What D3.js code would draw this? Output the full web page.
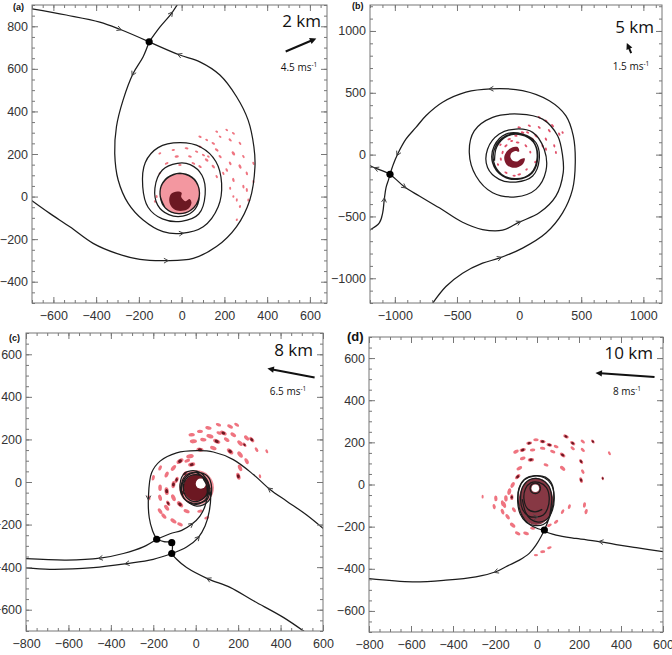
<!DOCTYPE html>
<html>
<head>
<meta charset="utf-8">
<script src="https://d3js.org/d3.v7.min.js"></script>
<style>
  body { margin: 0; background: #fff; }
  svg { display: block; }
</style>
</head>
<body>
<div id="chart"></div>
<script>
// ---------- data (km, storm-centred) ----------
const heights = ["2 km", "5 km", "8 km", "10 km"]
const panelTags = ["(a)", "(b)", "(c)", "(d)"]
const shearSpeed = [4.5, 1.5, 6.5, 8]        // m/s
const shearDir = [23, 113, 169, 176]         // degrees, anticlockwise from east

const xTicksA = [-600, -400, -200, 0, 200, 400, 600]
const yTicksA = [-400, -200, 0, 200, 400, 600, 800]
const xTicksB = [-1000, -500, 0, 500, 1000]
const yTicksB = [-1000, -500, 0, 500, 1000]
const xTicksCD = [-800, -600, -400, -200, 0, 200, 400, 600]
const yTicksCD = [-600, -400, -200, 0, 200, 400, 600]

// streamlines, points in flow order
const aLines = [
  [[-700,882],[-540,853],[-383,820],[-289,786],[-152,727]],
  [[-705,-16],[-617,-79],[-523,-142],[-414,-220],[-305,-267],[-195,-295],[-71,-301],[54,-290],[163,-235],[257,-141],[319,-16],[343,140],[338,234],[311,359],[257,469],[179,571],[85,633],[-9,665],[-152,727]],
  [[-152,727],[-102,796],[-48,860],[-15,910]],
  [[-152,727],[-180,657],[-227,578],[-274,453],[-305,328],[-313,203],[-297,78],[-250,-32],[-180,-110],[-87,-165],[-1,-173],[101,-142],[171,-48],[187,62],[160,165],[90,232],[-8,253],[-110,230],[-170,160],[-182,46],[-157,-50],[-90,-105],[-1,-116],[80,-82],[110,10],[95,100],[40,150],[-20,156],[-90,125],[-125,40],[-112,-40],[-60,-85],[5,-92],[62,-60],[83,5],[68,70],[20,105],[-40,102],[-90,60],[-100,0],[-75,-55],[-15,-80],[45,-62],[82,0],[68,68],[18,104],[-38,104],[-88,66],[-101,10],[-78,-52]]
]
const aArrows = [[-289,786],[-71,-301],[-9,665],[-48,860],[-227,578],[-1,-173]]
const aSaddles = [[-152,727]]

const bLines = [
  [[-1039,-159],[-1098,-132],[-1152,-111],[-1210,-84]],
  [[-1039,-159],[-991,-200],[-924,-260],[-803,-335],[-642,-430],[-455,-547],[-294,-606],[-133,-611],[1,-546],[162,-471],[296,-336],[355,-146],[350,-10],[310,152],[189,287],[1,328],[-213,301],[-361,192],[-401,17],[-347,-173],[-213,-308],[-26,-341],[135,-281],[216,-132],[202,44],[109,180],[-26,207],[-160,166],[-254,44],[-254,-105],[-160,-200],[-26,-222],[109,-173],[162,-38],[135,98],[28,166],[-106,166],[-200,71],[-214,-64],[-133,-173],[-12,-200],[105,-150],[150,-20],[115,105],[10,165],[-110,150],[-190,65],[-205,-55],[-140,-160],[-25,-195],[95,-150],[145,-25],[115,100],[15,160],[-100,148],[-180,62],[-198,-50]],
  [[-705,-1215],[-589,-1067],[-455,-959],[-294,-878],[-160,-837],[28,-756],[216,-634],[350,-471],[430,-281],[452,-64],[436,152],[377,314],[243,436],[28,518],[-227,532],[-428,505],[-616,423],[-750,314],[-830,220],[-911,125],[-978,3],[-1012,-78],[-1039,-159]],
  [[-1210,-615],[-1125,-552],[-1098,-471],[-1085,-362],[-1071,-267],[-1050,-200],[-1039,-159]]
]
const bArrows = [[-1152,-111],[-924,-260],[1,-546],[-160,-837],[-227,532],[-978,3],[-1085,-362]]
const bSaddles = [[-1039,-159]]

const cLines = [
  [[610,-226],[523,-155],[429,-90],[350,-35],[272,35],[177,105],[83,141],[5,147],[-90,137],[-168,98],[-208,43],[-223,-74],[-219,-168],[-203,-230],[-184,-269]],
  [[-184,-269],[-247,-305],[-341,-336],[-451,-358],[-608,-367],[-810,-360]],
  [[-113,-336],[-200,-363],[-325,-383],[-483,-402],[-687,-410],[-810,-402]],
  [[525,-712],[413,-636],[272,-558],[162,-495],[60,-456],[-43,-402],[-90,-363],[-113,-336]],
  [[-184,-269],[-150,-280],[-113,-285],[-113,-336]],
  [[-184,-269],[-121,-243],[-66,-227],[-19,-199],[20,-160],[44,-113],[55,-59],[44,4],[5,43],[-43,27],[-66,-27],[-50,-82],[5,-105],[52,-74],[62,-27],[40,20],[0,35],[-45,15],[-58,-30],[-40,-75],[5,-92],[48,-65],[55,-25],[35,15]],
  [[-113,-336],[-43,-305],[12,-261],[44,-207],[64,-137],[70,-59],[52,12],[5,51],[-50,43],[-74,-12],[-58,-74],[5,-113],[60,-90],[75,-27],[55,28],[5,45],[-48,30],[-68,-20],[-55,-78],[0,-100],[55,-80],[68,-27]]
]
const cArrows = [[350,-35],[-223,-74],[-451,-358],[-325,-383],[60,-456],[-19,-199],[12,-261]]
const cSaddles = [[-184,-269],[-113,-285],[-113,-336]]

const dLines = [
  [[610,-320],[473,-300],[393,-288],[306,-272],[186,-256],[91,-240],[43,-224],[35,-216]],
  [[35,-216],[19,-248],[-5,-288],[-37,-327],[-84,-359],[-140,-386],[-196,-414],[-291,-438],[-434,-454],[-593,-462],[-810,-446]],
  [[35,-216],[50,-180],[68,-130],[80,-60],[72,0],[40,35],[-10,42],[-55,28],[-85,-15],[-92,-80],[-80,-140],[-50,-180],[-10,-195],[30,-190],[55,-165],[65,-120],[70,-60],[55,-5],[15,25],[-30,25],[-65,-5],[-78,-60],[-68,-120],[-40,-150],[-5,-155],[30,-145],[50,-115],[58,-60],[45,-15],[10,10],[-30,8],[-55,-20],[-62,-70],[-45,-115],[-10,-130],[25,-118]],
  [[35,-216],[5,-210],[-35,-190],[-70,-150],[-88,-90],[-85,-20],[-60,22],[-15,40],[35,32],[68,0],[82,-60],[70,-130],[40,-170],[5,-178],[-30,-165],[-55,-130],[-70,-70]],
  [[17,-18],[10,0],[-8,7],[-26,0],[-33,-18],[-26,-36],[-8,-43],[10,-36],[17,-18]]
]
const dArrows = [[306,-272],[-196,-414],[-5,-155]]
const dSaddles = [[35,-216]]

// reflectivity cells: [x, y, length, level]
const aBlobs = [[86,281,16,1],[164,305,14,1],[211,313,14,1],[242,297,16,1],[148,250,18,1],[86,234,16,1],[23,227,18,1],[-39,219,16,1],[-102,203,14,1],[-23,188,20,1],[39,188,18,1],[102,195,16,1],[164,219,20,1],[227,266,18,1],[273,250,16,1],[242,203,22,1],[180,188,18,1],[117,172,20,1],[55,156,18,1],[-8,148,16,1],[-70,156,18,1],[-102,109,14,1],[86,141,18,1],[148,141,20,1],[227,156,18,1],[289,188,16,1],[273,141,22,1],[211,125,18,1],[164,94,16,1],[242,78,20,1],[305,109,18,1],[336,156,16,1],[289,47,18,1],[227,39,14,1],[258,-16,16,1],[305,31,18,1],[273,-47,14,1],[258,-109,12,1],[-117,0,14,1],[-125,-23,12,1],[195,109,16,1],[125,188,14,1],[70,211,16,1],[180,281,14,1],[117,266,14,1],[312,-16,14,1],[242,0,12,1],[336,70,16,1]]
const bBlobs = [[162,301,28,1],[216,273,28,1],[269,234,30,1],[323,166,28,1],[243,193,30,1],[162,220,28,1],[82,234,26,1],[1,220,28,1],[28,179,30,1],[135,152,30,1],[216,125,28,1],[283,71,26,1],[296,17,24,1],[189,71,28,1],[109,125,30,1],[-26,152,26,1],[-80,125,28,1],[-106,71,30,1],[-133,17,28,1],[-147,-37,26,1],[-106,-146,28,1],[1,-160,30,1],[55,71,28,1],[68,179,26,1],[216,44,26,1],[-12,98,30,1],[350,179,22,1],[-60,110,24,1],[-150,80,22,1],[-170,-80,22,1],[-40,-170,26,1],[60,-120,22,1],[90,20,22,1],[130,-60,20,1]]
const cBlobs = [[-19,222,30,1],[20,238,28,1],[60,254,30,1],[107,269,26,1],[162,261,30,1],[193,269,26,1],[67,215,34,1],[130,230,34,2],[177,222,30,1],[240,207,30,1],[264,199,30,2],[-11,191,34,1],[36,199,30,1],[99,191,36,2],[146,199,30,1],[209,183,32,1],[287,152,24,1],[20,152,34,2],[83,160,32,1],[162,144,36,2],[209,129,34,1],[240,98,30,1],[209,66,32,1],[201,27,34,2],[303,27,20,1],[335,144,20,1],[-27,121,36,1],[-19,82,34,2],[-74,98,36,2],[-105,66,32,1],[-137,35,30,1],[-105,-12,34,2],[-137,-43,36,2],[-168,-74,30,1],[-105,-74,34,1],[-74,-105,36,2],[-43,-137,30,1],[-137,-121,32,1],[-168,-137,30,1],[-105,-183,32,1],[-74,-199,28,1],[20,-137,26,1],[52,-168,24,1],[-200,20,26,1],[-168,-27,30,1],[-168,66,26,1],[-220,-74,24,1],[-90,10,30,2],[-60,-50,30,2],[-50,40,28,2],[-40,100,28,1],[110,230,26,1],[230,175,24,2],[-130,-100,28,2],[-150,-160,30,1]]
const dBlobs = [[-100,156,28,1],[-68,164,30,2],[-37,196,28,2],[-5,212,26,1],[27,204,28,2],[59,188,28,2],[91,180,24,1],[138,228,28,2],[170,196,28,2],[218,204,24,1],[266,204,22,2],[345,148,20,1],[-21,164,26,1],[27,172,26,1],[75,156,26,1],[122,140,30,2],[170,172,24,1],[218,164,24,1],[-68,124,28,1],[-29,117,30,2],[43,93,24,1],[122,77,30,1],[210,109,26,2],[218,61,24,1],[210,21,28,2],[313,29,18,2],[-84,77,30,1],[-92,37,30,2],[-116,-2,30,1],[-132,-34,32,1],[-148,-66,30,1],[-156,-97,30,1],[-164,-129,28,1],[-140,-153,28,1],[-116,-193,30,1],[-92,-232,28,1],[-52,-232,28,1],[-21,-208,24,1],[59,-193,24,1],[91,-177,24,1],[122,-129,24,1],[154,-105,24,1],[226,-97,26,1],[234,-129,26,1],[27,-319,24,1],[59,-300,22,1],[-5,-335,20,1],[-259,-58,18,1],[-196,-66,28,1],[-164,-89,28,1],[-204,-105,26,1],[-120,-60,28,2],[-110,-120,26,1]]

// storm cores
const aDisk = [-8, 12, 95]
const aDark = [[-50,12],[-20,24],[0,18],[-2,-2],[18,-22],[38,-12],[46,-28],[36,-52],[12,-66],[-22,-66],[-46,-50],[-58,-20]]
const bDark = [[-10,60],[-60,55],[-100,25],[-120,-25],[-105,-75],[-60,-105],[-5,-100],[35,-70],[45,-30],[15,-35],[-15,-55],[-50,-50],[-70,-20],[-60,15],[-30,30],[0,25]]
const cDisk = [4, -27, 82]
const cDark = [4, -27, 62]
const cEye = [24, -8, 24]
const dDark = [-5, -80, 82, 112]
const dEye = [-8, -18, 18]

// ---------- layout ----------
const W = 672, H = 655
const pink = "#ef7480", dark = "#6c1822"

const panels = [
  {lines: aLines, arrows: aArrows, saddles: aSaddles, blobs: aBlobs, xd: [-700, 680], yd: [-500, 900],
   xt: xTicksA, yt: yTicksA, xm: 50, ym: 50, box: [32, 327, 5, 303], centre: [-8, 12],
   tag: [13, 10, 9], km: [-6, 22], vec: [-26, 40], lab: [-28, 62]},
  {lines: bLines, arrows: bArrows, saddles: bSaddles, blobs: bBlobs, xd: [-1200, 1150], yd: [-1200, 1210],
   xt: xTicksB, yt: yTicksB, xm: 100, ym: 100, box: [370, 662, 5, 303], centre: [-34, -11],
   tag: [352, 9, 9], km: [-8, 28], vec: [-33, 43], lab: [-31, 61]},
  {lines: cLines, arrows: cArrows, saddles: cSaddles, blobs: cBlobs, xd: [-800, 600], yd: [-700, 700],
   xt: xTicksCD, yt: yTicksCD, xm: 50, ym: 50, box: [26, 323, 333, 631], centre: [4, -27],
   tag: [9, 341, 9], km: [-10, 23], vec: [-32, 40], lab: [-35, 58]},
  {lines: dLines, arrows: dArrows, saddles: dSaddles, blobs: dBlobs, xd: [-800, 600], yd: [-700, 700],
   xt: xTicksCD, yt: yTicksCD, xm: 50, ym: 50, box: [369, 663, 337, 632], centre: [-5, -60],
   tag: [347, 341, 13], km: [-10, 22], vec: [-38, 38], lab: [-36, 54]}
]

const svg = d3.select("#chart").append("svg")
  .attr("width", W).attr("height", H)
  .style("font-family", "'Liberation Sans', Arial, sans-serif")

panels.forEach((p, i) => {
  const [x0, x1, y0, y1] = p.box
  const x = d3.scaleLinear(p.xd, [x0, x1])
  const y = d3.scaleLinear(p.yd, [y1, y0])
  const g = svg.append("g")

  svg.append("clipPath").attr("id", "clip" + i)
    .append("rect").attr("x", x0).attr("y", y0).attr("width", x1 - x0).attr("height", y1 - y0)
  const plot = g.append("g").attr("clip-path", `url(#clip${i})`)

  // reflectivity
  const ell = (cx, cy, r, fill) => plot.append("ellipse")
    .attr("cx", x(cx)).attr("cy", y(cy))
    .attr("rx", x(cx + r) - x(cx)).attr("ry", y(cy) - y(cy + r)).attr("fill", fill)
  const smooth = d3.line().x(d => x(d[0])).y(d => y(d[1])).curve(d3.curveCatmullRomClosed)

  if (i === 0) {
    ell(aDisk[0], aDisk[1], aDisk[2], pink).attr("opacity", 0.75)
    plot.append("path").attr("d", smooth(aDark)).attr("fill", dark)
  } else if (i === 1) {
    plot.append("path").attr("d", smooth(bDark)).attr("fill", "#7e1a2c")
  } else if (i === 2) {
    ell(cDisk[0], cDisk[1], cDisk[2], pink).attr("opacity", 0.8)
    ell(cDark[0], cDark[1], cDark[2], dark)
    ell(cEye[0], cEye[1], cEye[2], "#fff")
  } else {
    plot.append("ellipse").attr("cx", x(dDark[0])).attr("cy", y(dDark[1]))
      .attr("rx", x(dDark[0] + dDark[2]) - x(dDark[0])).attr("ry", y(dDark[1]) - y(dDark[1] + dDark[3]))
      .attr("fill", "#7a2230").attr("opacity", 0.9)
    ell(dEye[0], dEye[1], dEye[2], "#fff")
  }

  const [cx, cy] = p.centre
  p.blobs.forEach(b => {
    const px = x(b[0]), py = y(b[1])
    const ang = Math.atan2(py - y(cy), px - x(cx)) * 180 / Math.PI + 90
    const len = x(b[2]) - x(0)
    const cell = plot.append("g").attr("transform", `translate(${px},${py}) rotate(${ang})`)
    cell.append("ellipse").attr("rx", len / 2).attr("ry", Math.max(1, len * 0.28))
      .attr("fill", i === 1 ? "#e0506a" : pink)
    if (b[3] === 2)
      cell.append("ellipse").attr("rx", len * 0.28).attr("ry", Math.max(1, len * 0.2)).attr("fill", dark)
  })

  // streamlines
  const line = d3.line().x(d => x(d[0])).y(d => y(d[1])).curve(d3.curveCatmullRom.alpha(0.5))
  const paths = p.lines.map(l => plot.append("path").attr("d", line(l))
    .attr("fill", "none").attr("stroke", "#1c1c1c").attr("stroke-width", 1.25).node())

  // flow arrows: nearest point on any streamline
  p.arrows.forEach(a => {
    const ax = x(a[0]), ay = y(a[1])
    let best = null
    paths.forEach(node => {
      const total = node.getTotalLength()
      for (let l = 0; l <= total; l += 1) {
        const q = node.getPointAtLength(l)
        const d = (q.x - ax) ** 2 + (q.y - ay) ** 2
        if (!best || d < best.d) best = {d, l, node, total}
      }
    })
    const q1 = best.node.getPointAtLength(Math.max(0, best.l - 2))
    const q2 = best.node.getPointAtLength(Math.min(best.total, best.l + 2))
    const q = best.node.getPointAtLength(best.l)
    const t = Math.atan2(q2.y - q1.y, q2.x - q1.x)
    const s = 5, w = 0.5
    const tip = [q.x + Math.cos(t) * 2, q.y + Math.sin(t) * 2]
    plot.append("path")
      .attr("d", `M${tip[0] - s * Math.cos(t - w)},${tip[1] - s * Math.sin(t - w)}L${tip[0]},${tip[1]}L${tip[0] - s * Math.cos(t + w)},${tip[1] - s * Math.sin(t + w)}`)
      .attr("fill", "none").attr("stroke", "#444").attr("stroke-width", 1)
  })

  plot.selectAll(".saddle").data(p.saddles).join("circle")
    .attr("cx", d => x(d[0])).attr("cy", d => y(d[1])).attr("r", 3.6).attr("fill", "#000")

  // frame and ticks
  const tickCol = "#777"
  const minor = (dom, step) => d3.range(Math.ceil(dom[0] / step) * step, dom[1] + 0.001, step)
  const sides = [
    [d3.axisBottom, x, `translate(0,${y1})`, p.xt, p.xd, p.xm, true],
    [d3.axisTop, x, `translate(0,${y0})`, p.xt, p.xd, p.xm, false],
    [d3.axisLeft, y, `translate(${x0},0)`, p.yt, p.yd, p.ym, true],
    [d3.axisRight, y, `translate(${x1},0)`, p.yt, p.yd, p.ym, false]
  ]
  sides.forEach(([ax, sc, tr, major, dom, step, labels]) => {
    g.append("g").attr("transform", tr)
      .call(ax(sc).tickValues(minor(dom, step)).tickSize(-3).tickFormat(""))
      .call(s => s.select(".domain").remove())
    const m = g.append("g").attr("transform", tr)
      .call(ax(sc).tickValues(major).tickSize(-6).tickPadding(ax === d3.axisBottom ? 8 : 4)
        .tickFormat(labels ? d3.format("d") : ""))
      .call(s => s.select(".domain").remove())
    m.attr("font-family", null).attr("font-size", 12.5)
    m.selectAll("text").attr("fill", "#333")
  })
  g.selectAll(".tick line").attr("stroke", tickCol)
  g.append("rect").attr("x", x0).attr("y", y0).attr("width", x1 - x0).attr("height", y1 - y0)
    .attr("fill", "none").attr("stroke", tickCol).attr("stroke-width", 1)

  // annotations
  g.append("text").attr("x", p.tag[0]).attr("y", p.tag[1]).attr("font-size", p.tag[2])
    .attr("font-weight", "bold").attr("fill", "#111").text(panelTags[i])
  g.append("text").attr("x", x1 + p.km[0]).attr("y", y0 + p.km[1]).attr("text-anchor", "end")
    .attr("font-family", "'Open Sans', sans-serif").attr("font-size", 17).attr("fill", "#111").text(heights[i])

  const L = shearSpeed[i] * 7.4, a = shearDir[i] * Math.PI / 180
  const dx = Math.cos(a) * L, dy = -Math.sin(a) * L
  const mx = x1 + p.vec[0], my = y0 + p.vec[1]
  const hx = mx + dx / 2, hy = my + dy / 2
  const ux = dx / L, uy = dy / L, hl = 6.5, hw = 3.2
  g.append("line").attr("x1", mx - dx / 2).attr("y1", my - dy / 2)
    .attr("x2", hx - ux * hl * 0.8).attr("y2", hy - uy * hl * 0.8)
    .attr("stroke", "#111").attr("stroke-width", 2)
  g.append("path")
    .attr("d", `M${hx},${hy}L${hx - ux * hl - uy * hw},${hy - uy * hl + ux * hw}L${hx - ux * hl + uy * hw},${hy - uy * hl - ux * hw}Z`)
    .attr("fill", "#111")
  const t = g.append("text").attr("x", x1 + p.lab[0]).attr("y", y0 + p.lab[1] + 3.5).attr("text-anchor", "middle")
    .attr("font-family", "'Open Sans', sans-serif").attr("font-size", 10).attr("fill", "#111")
  t.append("tspan").text(shearSpeed[i] + " ms")
  t.append("tspan").attr("dy", -4).attr("font-size", 6.5).text("-1")
})
</script>
</body>
</html>
